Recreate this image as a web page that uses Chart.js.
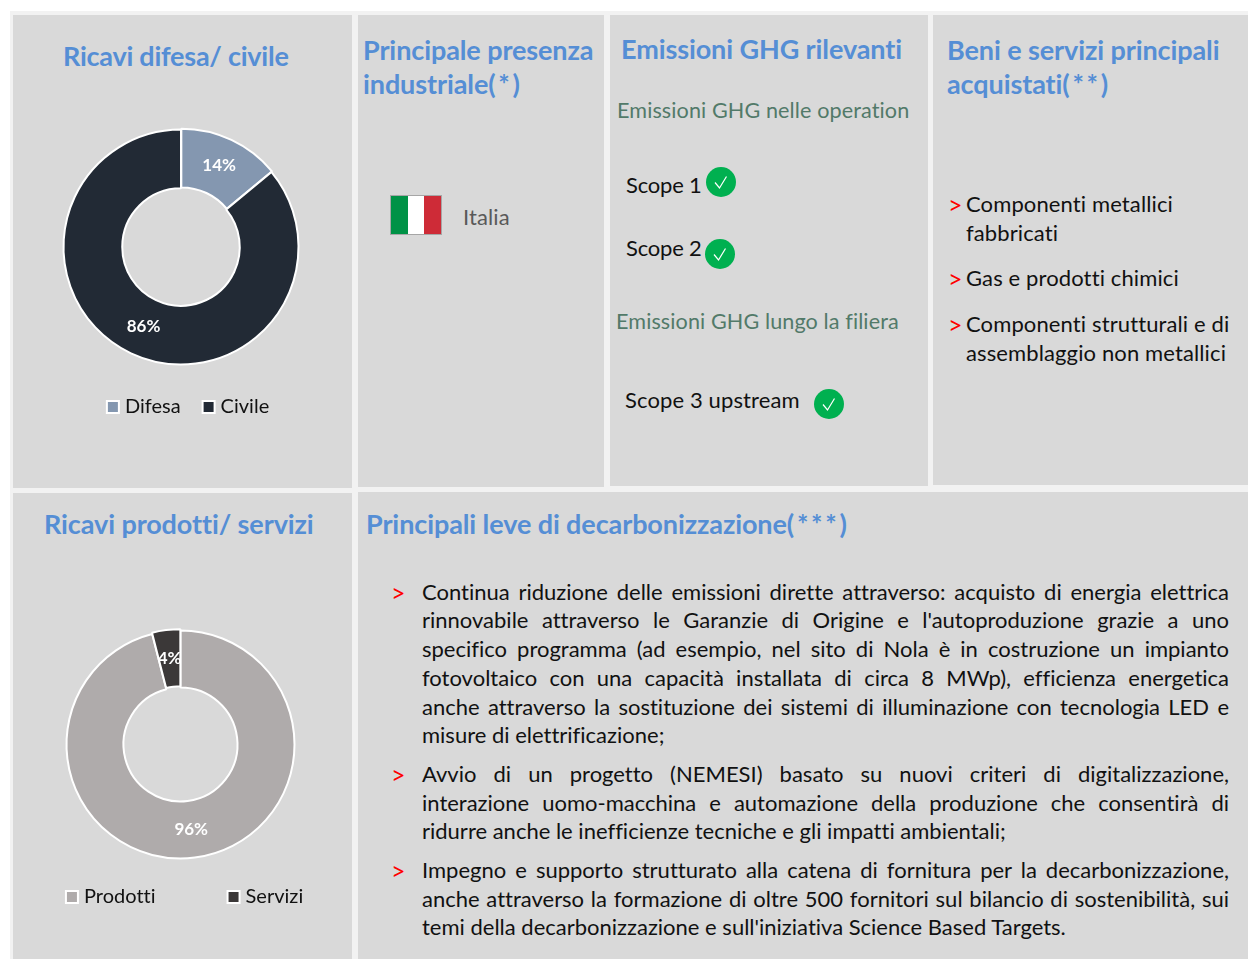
<!DOCTYPE html>
<html lang="it">
<head>
<meta charset="utf-8">
<title>Ricavi e decarbonizzazione</title>
<script src="https://cdn.jsdelivr.net/npm/chart.js@4/dist/chart.umd.min.js"></script>
<style>
  html, body { margin: 0; padding: 0; background: #fff; }
  body { position: relative; width: 1248px; height: 959px; overflow: hidden; font-family: Lato, "Open Sans", sans-serif; font-variant-ligatures: none; }
  .edge { position: absolute; left: 10px; top: 11px; width: 1238px; height: 948px; background: #f2f2f2; }
  .panel { position: absolute; background: #d9d9d9; }
  .t { position: absolute; height: 30px; line-height: 30px; white-space: nowrap; }
  .title { color: #558ed5; font-weight: 700; font-size: 27px; letter-spacing: -0.1px; }
  .title span { letter-spacing: 2.7px; }
  .sub { color: #527a69; font-size: 21.6px; letter-spacing: 0.1px; }
  .body { color: #111; font-size: 22px; letter-spacing: 0.12px; margin-top: -1px; }
  .arrow { color: #f00; font-size: 25px; margin-top: -1px; }
  .para { color: #111; font-size: 22px; left: 422px; width: 807px; margin-top: -1px; white-space: normal; text-align: justify; text-align-last: justify; }
  .para.last { text-align-last: left; }
  canvas { position: absolute; }
  .check { position: absolute; width: 30px; height: 30px; }
  .flag { position: absolute; left: 390px; top: 195px; width: 50px; height: 38px; border: 1px solid #a6a6a6; display: flex; }
  .flag i { flex: 1; }
</style>
</head>
<body>
<div class="edge"></div>
<div class="panel" style="left:13px;top:15px;width:339px;height:473px"></div>
<div class="panel" style="left:358px;top:15px;width:246px;height:472px"></div>
<div class="panel" style="left:610px;top:15px;width:318px;height:471px"></div>
<div class="panel" style="left:933px;top:15px;width:315px;height:470px"></div>
<div class="panel" style="left:13px;top:493px;width:339px;height:466px"></div>
<div class="panel" style="left:358px;top:492px;width:890px;height:467px"></div>

<canvas id="chart-difesa" style="left:61px;top:110px"></canvas>
<canvas id="chart-prodotti" style="left:-16px;top:600px"></canvas>

<div class="t title" style="left:63px;top:41px;letter-spacing:-0.25px">Ricavi difesa/ civile</div>
<div class="t title" style="left:363px;top:35px">Principale presenza</div>
<div class="t title" style="left:363px;top:69px">industriale<span>(*)</span></div>
<div class="t title" style="left:621px;top:34px">Emissioni GHG rilevanti</div>
<div class="t title" style="left:947px;top:35px">Beni e servizi principali</div>
<div class="t title" style="left:947px;top:69px">acquistati<span>(**)</span></div>
<div class="t title" style="left:44px;top:509px">Ricavi prodotti/ servizi</div>
<div class="t title" style="left:366px;top:509px">Principali leve di decarbonizzazione<span>(***)</span></div>

<div class="flag"><i style="background:#009246"></i><i style="background:#fff"></i><i style="background:#ce2b37"></i></div>
<div class="t body" style="left:463px;top:203px;color:#595959">Italia</div>

<div class="t sub" style="left:617px;top:95px">Emissioni GHG nelle operation</div>
<div class="t body" style="left:626px;top:171px;letter-spacing:-0.2px">Scope 1</div>
<div class="t body" style="left:626px;top:234px;letter-spacing:-0.2px">Scope 2</div>
<div class="t sub" style="left:616px;top:306px">Emissioni GHG lungo la filiera</div>
<div class="t body" style="left:625px;top:386px">Scope 3 upstream</div>

<svg class="check" style="left:706px;top:167px" viewBox="0 0 30 30"><circle cx="15" cy="15" r="15" fill="#00b050"/><path d="M9 15.500 L13.500 21 L20.500 9.500" fill="none" stroke="#fff" stroke-width="1.200"/></svg>
<svg class="check" style="left:705px;top:239px" viewBox="0 0 30 30"><circle cx="15" cy="15" r="15" fill="#00b050"/><path d="M9 15.500 L13.500 21 L20.500 9.500" fill="none" stroke="#fff" stroke-width="1.200"/></svg>
<svg class="check" style="left:814px;top:389px" viewBox="0 0 30 30"><circle cx="15" cy="15" r="15" fill="#00b050"/><path d="M9 15.500 L13.500 21 L20.500 9.500" fill="none" stroke="#fff" stroke-width="1.200"/></svg>

<div class="t arrow" style="left:948px;top:190px">&gt;</div>
<div class="t body" style="left:966px;top:190px">Componenti metallici</div>
<div class="t body" style="left:966px;top:219px">fabbricati</div>
<div class="t arrow" style="left:948px;top:264px">&gt;</div>
<div class="t body" style="left:966px;top:264px">Gas e prodotti chimici</div>
<div class="t arrow" style="left:948px;top:310px">&gt;</div>
<div class="t body" style="left:966px;top:310px">Componenti strutturali e di</div>
<div class="t body" style="left:966px;top:339px">assemblaggio non metallici</div>

<div class="t arrow" style="left:391px;top:578px">&gt;</div>
<div class="t para" style="top:578px">Continua riduzione delle emissioni dirette attraverso: acquisto di energia elettrica</div>
<div class="t para" style="top:606px">rinnovabile attraverso le Garanzie di Origine e l'autoproduzione grazie a uno</div>
<div class="t para" style="top:635px">specifico programma (ad esempio, nel sito di Nola è in costruzione un impianto</div>
<div class="t para" style="top:664px">fotovoltaico con una capacità installata di circa 8 MWp), efficienza energetica</div>
<div class="t para" style="top:693px">anche attraverso la sostituzione dei sistemi di illuminazione con tecnologia LED e</div>
<div class="t para last" style="top:721px">misure di elettrificazione;</div>
<div class="t arrow" style="left:391px;top:760px">&gt;</div>
<div class="t para" style="top:760px">Avvio di un progetto (NEMESI) basato su nuovi criteri di digitalizzazione,</div>
<div class="t para" style="top:789px">interazione uomo-macchina e automazione della produzione che consentirà di</div>
<div class="t para last" style="top:817px">ridurre anche le inefficienze tecniche e gli impatti ambientali;</div>
<div class="t arrow" style="left:391px;top:856px">&gt;</div>
<div class="t para" style="top:856px">Impegno e supporto strutturato alla catena di fornitura per la decarbonizzazione,</div>
<div class="t para" style="top:885px">anche attraverso la formazione di oltre 500 fornitori sul bilancio di sostenibilità, sui</div>
<div class="t para last" style="top:913px">temi della decarbonizzazione e sull'iniziativa Science Based Targets.</div>

<script>
const difesaLabels = ["Difesa", "Civile"];
const difesaValues = [14, 86];
const difesaColors = ["#8497b0", "#222a35"];

const prodottiLabels = ["Prodotti", "Servizi"];
const prodottiValues = [96, 4];
const prodottiColors = ["#afabab", "#3b3838"];

// etichette percentuali al centro di ogni spicchio
const sliceLabelPlugin = {
  id: 'sliceLabel',
  beforeDraw(chart) {
    // letterSpacing != 0 toglie la legatura "tt" di Lato nella legenda
    chart.ctx.letterSpacing = '0.01px';
  },
  afterDatasetsDraw(chart) {
    const ctx = chart.ctx;
    const values = chart.data.datasets[0].data;
    const total = values.reduce((a, b) => a + b, 0);
    ctx.save();
    ctx.font = '700 17px Lato, sans-serif';
    ctx.fillStyle = '#fff';
    ctx.textAlign = 'center';
    ctx.textBaseline = 'middle';
    chart.getDatasetMeta(0).data.forEach((arc, i) => {
      const pos = arc.tooltipPosition();
      ctx.fillText(Math.round(values[i] / total * 100) + '%', pos.x, pos.y);
    });
    ctx.restore();
  }
};

// la legenda nel riferimento non è centrata sulla ciambella
const legendShiftPlugin = {
  id: 'legendShift',
  afterLayout(chart, args, options) {
    chart.legend.left += options.dx;
    chart.legend.right += options.dx;
  }
};

function renderDonut(id, labels, values, colors, size, opts) {
  const canvas = document.getElementById(id);
  canvas.width = size.width;
  canvas.height = size.height;
  return new Chart(canvas.getContext('2d'), {
    type: 'doughnut',
    data: {
      labels,
      datasets: [{
        data: values,
        backgroundColor: colors,
        borderColor: '#fff',
        borderWidth: 2,
        clip: false,
        offset: opts.offset
      }]
    },
    options: {
      responsive: false,
      animation: false,
      cutout: '50%',
      radius: opts.radius,
      layout: { padding: opts.padding },
      plugins: {
        tooltip: { enabled: false },
        legendShift: { dx: opts.legendDx },
        legend: {
          position: 'bottom',
          onClick: null,
          labels: {
            // boxWidth piccolo: il quadratino resta da boxHeight, il testo si avvicina
            usePointStyle: true,
            pointStyle: 'rect',
            boxWidth: 4,
            boxHeight: 12,
            padding: opts.legendGap,
            color: '#111',
            font: { family: 'Lato, sans-serif', size: 20 }
          }
        }
      }
    },
    plugins: [sliceLabelPlugin, legendShiftPlugin]
  });
}

renderDonut('chart-difesa', difesaLabels, difesaValues, difesaColors,
  { width: 269, height: 317 },
  { offset: [3, 0], radius: 117.5, legendGap: 26, legendDx: 9, padding: { left: 0, right: 29, top: 13, bottom: 0 } });

renderDonut('chart-prodotti', prodottiLabels, prodottiValues, prodottiColors,
  { width: 400, height: 317 },
  { offset: [0, 3], radius: 114, legendGap: 76, legendDx: 6, padding: { left: 0, right: 7, top: 78, bottom: 0 } });
</script>
</body>
</html>
